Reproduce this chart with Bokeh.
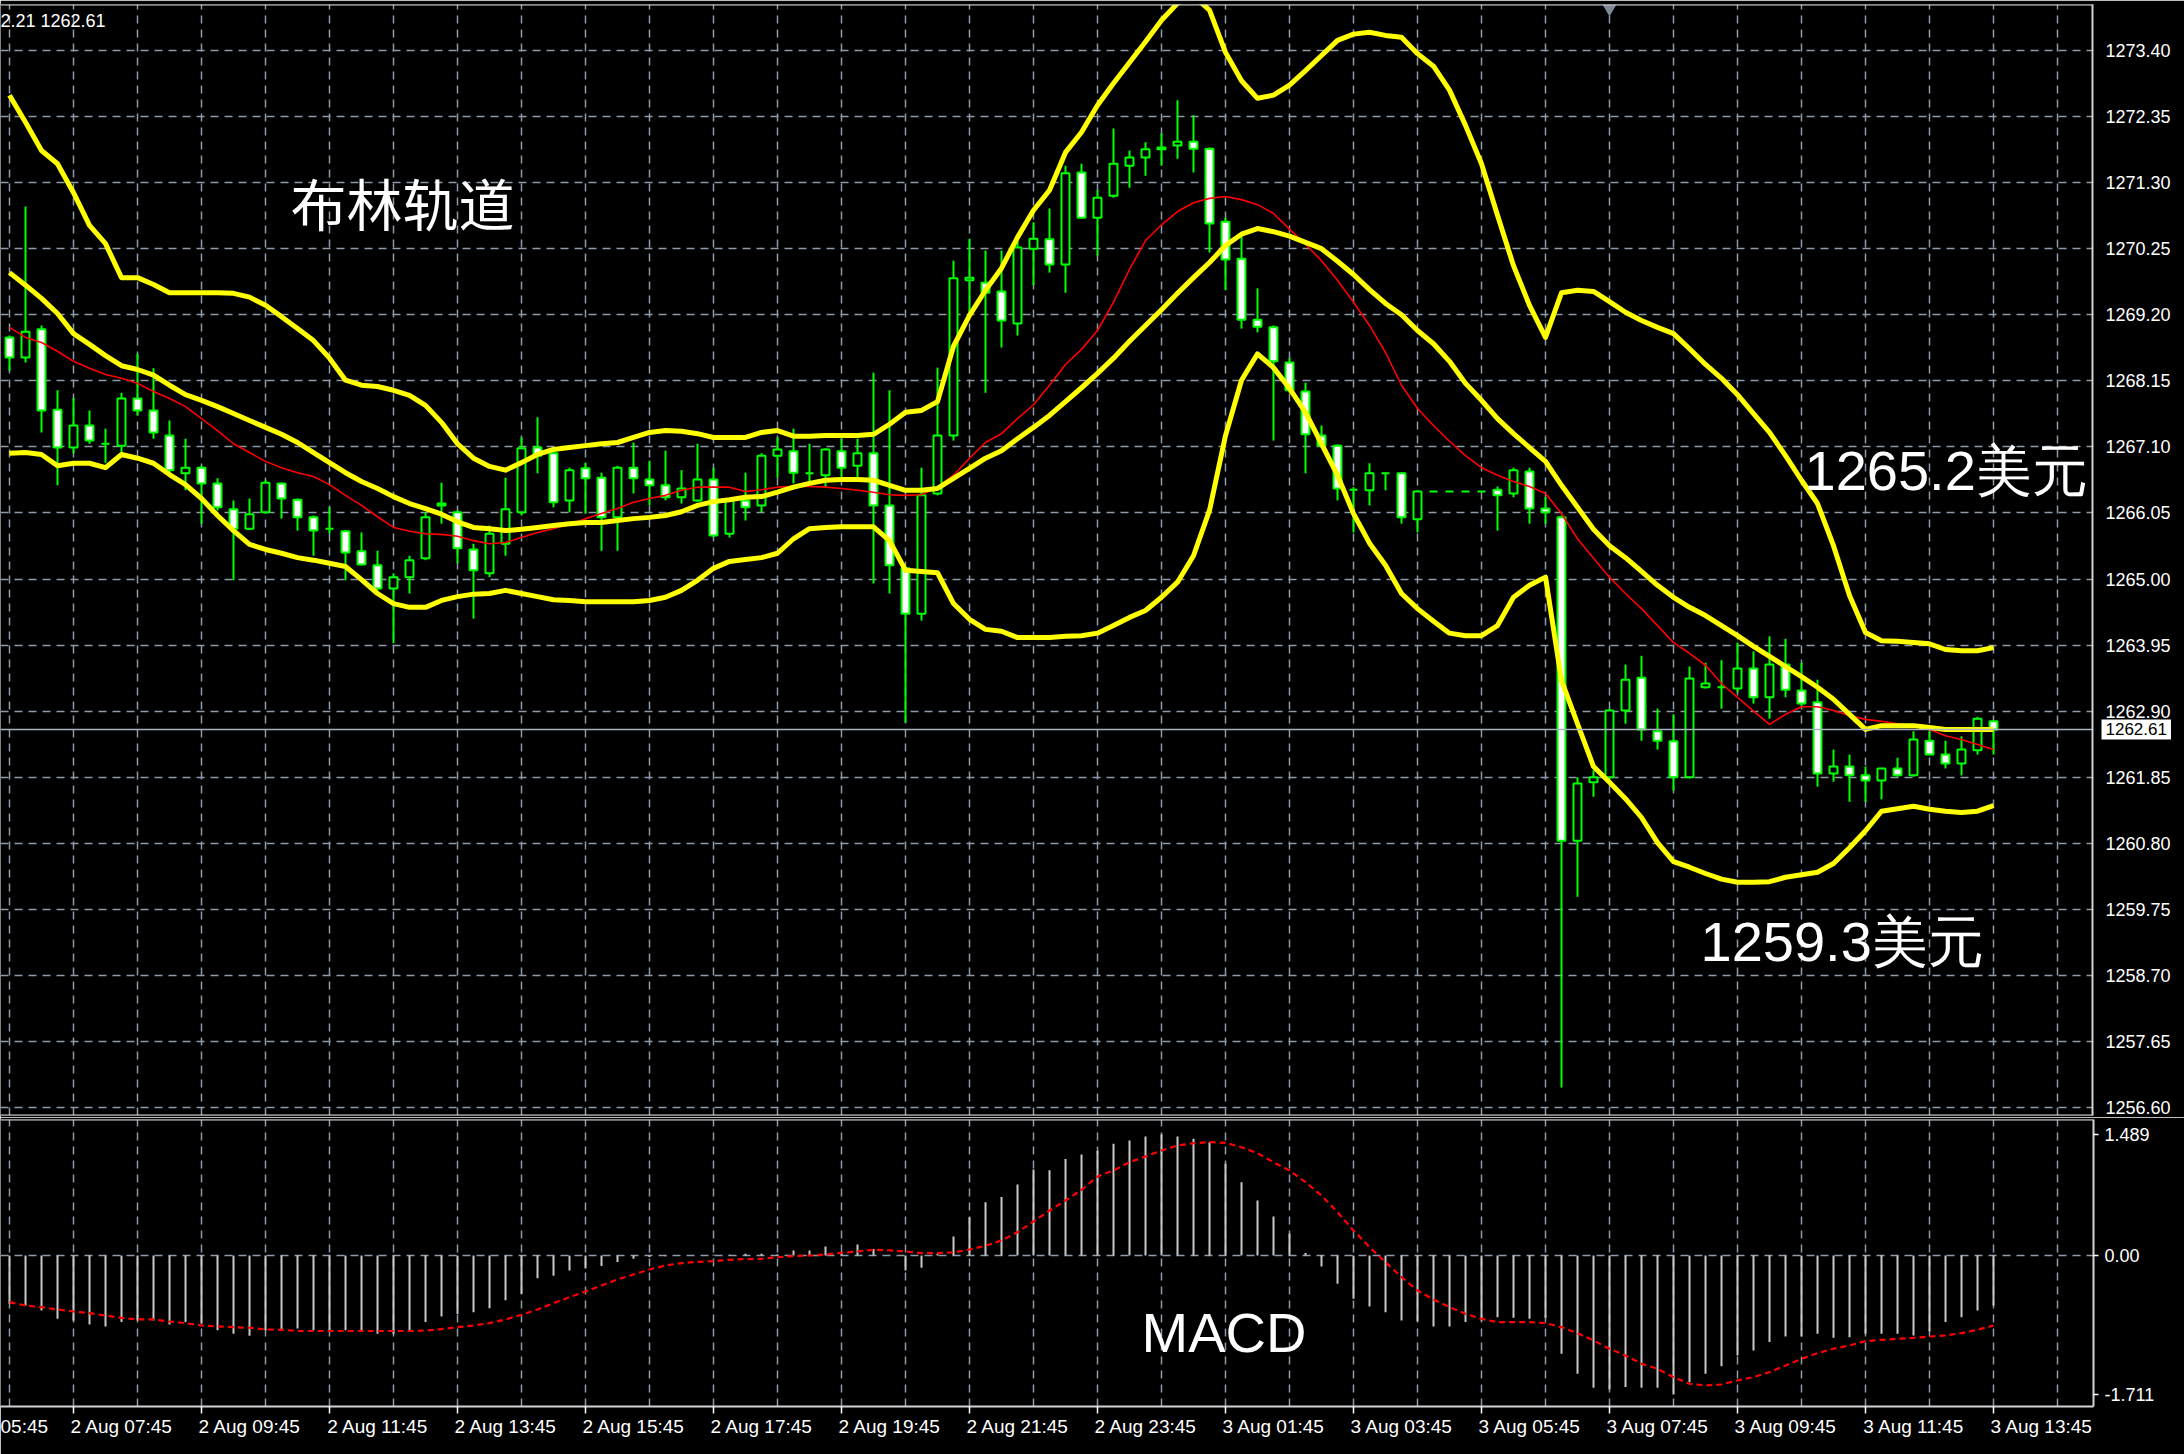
from bokeh.plotting import figure
from bokeh.layouts import column
from bokeh.models import (Range1d, FixedTicker, Span, Label, Grid, ColumnDataSource,
                          NumeralTickFormatter)
from bokeh.embed import file_html
from bokeh.resources import INLINE

# ---------------- data (15-minute bars, 2 Aug 06:45 -> 3 Aug 13:45) ----------------
open_ = [
    1268.84, 1268.52, 1268.97, 1267.69, 1267.09, 1267.44, 1267.15, 1267.12, 1267.87, 1267.68,
    1267.28, 1266.68, 1266.77, 1266.52, 1266.11, 1265.80, 1266.06, 1266.52, 1266.26, 1265.98,
    1265.80, 1265.76, 1265.44, 1265.22, 1264.85, 1265.03, 1265.33, 1266.17, 1266.06, 1265.47,
    1265.09, 1265.56, 1266.06, 1267.09, 1267.00, 1266.25, 1266.76, 1266.61, 1265.98, 1266.77,
    1266.58, 1266.49, 1266.30, 1266.25, 1266.58, 1265.72, 1266.25, 1266.17, 1266.96, 1267.03,
    1266.68, 1266.65, 1267.03, 1266.80, 1267.00, 1266.17, 1265.17, 1264.45, 1266.36, 1267.28,
    1269.75, 1269.71, 1269.57, 1269.06, 1270.25, 1270.40, 1270.00, 1271.46, 1270.74, 1271.09,
    1271.57, 1271.70, 1271.83, 1271.89, 1271.95, 1271.84, 1270.68, 1270.09, 1269.12, 1269.00,
    1268.44, 1267.98, 1267.28, 1267.12, 1266.42, 1266.41, 1266.68, 1266.68, 1265.95, 1266.39,
    1266.39, 1266.39, 1266.39, 1266.42, 1266.36, 1266.71, 1266.12, 1265.98, 1260.84, 1261.77,
    1261.85, 1262.91, 1263.43, 1262.58, 1262.42, 1261.85, 1263.28, 1263.28, 1263.26, 1263.58,
    1263.12, 1263.64, 1263.23, 1263.04, 1261.91, 1262.02, 1261.88, 1261.80, 1261.99, 1261.88,
    1262.43, 1262.21, 1262.07, 1262.28, 1262.74]
high_ = [
    1268.87, 1270.92, 1269.03, 1268.00, 1267.88, 1267.68, 1267.39, 1267.96, 1268.58, 1268.35,
    1267.52, 1267.23, 1266.80, 1266.60, 1266.25, 1266.28, 1266.57, 1266.53, 1266.28, 1266.01,
    1266.14, 1265.78, 1265.74, 1265.45, 1265.09, 1265.37, 1266.06, 1266.53, 1266.09, 1265.56,
    1265.85, 1266.61, 1267.25, 1267.57, 1267.01, 1266.77, 1266.85, 1266.69, 1266.80, 1267.17,
    1266.88, 1267.04, 1266.73, 1267.15, 1266.77, 1266.28, 1266.69, 1267.00, 1267.25, 1267.39,
    1267.15, 1267.08, 1267.23, 1267.23, 1268.28, 1268.00, 1265.19, 1266.77, 1268.36, 1270.06,
    1270.41, 1270.22, 1270.22, 1270.38, 1270.67, 1270.89, 1271.57, 1271.60, 1271.18, 1272.16,
    1271.81, 1271.94, 1272.08, 1272.61, 1272.37, 1271.86, 1270.74, 1270.46, 1269.62, 1269.03,
    1268.51, 1268.12, 1267.44, 1267.14, 1266.46, 1266.84, 1266.68, 1266.69, 1266.41, 1266.39,
    1266.39, 1266.39, 1266.39, 1266.47, 1266.77, 1266.77, 1266.30, 1266.01, 1261.85, 1261.96,
    1262.94, 1263.64, 1263.78, 1262.94, 1262.85, 1263.61, 1263.67, 1263.71, 1263.99, 1263.85,
    1264.09, 1264.05, 1263.67, 1263.40, 1262.29, 1262.21, 1262.02, 1262.00, 1262.16, 1262.58,
    1262.58, 1262.43, 1262.50, 1262.81, 1262.75]
low_ = [
    1268.31, 1268.44, 1267.33, 1266.49, 1267.00, 1267.15, 1266.85, 1267.01, 1267.60, 1267.23,
    1266.68, 1266.41, 1265.88, 1266.09, 1264.98, 1265.78, 1266.04, 1265.96, 1265.77, 1265.37,
    1265.72, 1264.98, 1265.22, 1264.83, 1263.98, 1264.77, 1265.30, 1265.88, 1265.25, 1264.37,
    1265.03, 1265.37, 1266.01, 1266.68, 1266.14, 1266.06, 1266.04, 1265.45, 1265.45, 1266.36,
    1266.17, 1266.25, 1266.20, 1266.23, 1265.67, 1265.66, 1265.93, 1266.06, 1266.61, 1266.52,
    1266.52, 1266.46, 1266.57, 1266.57, 1264.93, 1264.77, 1262.72, 1264.34, 1266.33, 1267.20,
    1269.24, 1267.96, 1268.68, 1268.87, 1269.67, 1269.87, 1269.55, 1270.73, 1270.14, 1271.06,
    1271.22, 1271.41, 1271.57, 1271.68, 1271.46, 1270.19, 1269.59, 1268.98, 1268.92, 1267.20,
    1267.96, 1266.68, 1267.09, 1266.25, 1265.74, 1266.17, 1266.41, 1265.88, 1265.74, 1266.39,
    1266.39, 1266.39, 1266.39, 1265.77, 1266.30, 1265.88, 1265.88, 1256.92, 1259.95, 1261.54,
    1261.83, 1262.70, 1262.43, 1262.29, 1261.64, 1261.83, 1263.26, 1262.94, 1263.20, 1263.02,
    1262.78, 1263.12, 1262.99, 1261.70, 1261.78, 1261.46, 1261.46, 1261.50, 1261.86, 1261.86,
    1262.20, 1261.99, 1261.88, 1262.21, 1262.21]
close_ = [
    1268.52, 1268.93, 1267.68, 1267.09, 1267.44, 1267.20, 1267.15, 1267.87, 1267.68, 1267.33,
    1266.73, 1266.77, 1266.52, 1266.14, 1265.80, 1266.03, 1266.53, 1266.28, 1265.98, 1265.77,
    1265.80, 1265.42, 1265.23, 1264.85, 1265.03, 1265.30, 1265.98, 1266.20, 1265.49, 1265.14,
    1265.72, 1266.11, 1267.08, 1266.96, 1266.22, 1266.73, 1266.60, 1265.98, 1266.77, 1266.60,
    1266.49, 1266.30, 1266.44, 1266.58, 1265.69, 1266.25, 1266.14, 1266.96, 1267.06, 1266.69,
    1266.68, 1267.06, 1266.77, 1267.00, 1266.17, 1265.22, 1264.45, 1266.33, 1267.28, 1269.78,
    1269.79, 1269.55, 1269.11, 1270.27, 1270.41, 1270.00, 1271.45, 1270.74, 1271.06, 1271.60,
    1271.70, 1271.83, 1271.86, 1271.95, 1271.84, 1270.65, 1270.08, 1269.12, 1269.01, 1268.46,
    1268.00, 1267.30, 1267.12, 1266.44, 1266.42, 1266.68, 1266.68, 1265.98, 1266.39, 1266.39,
    1266.39, 1266.39, 1266.39, 1266.33, 1266.73, 1266.12, 1266.06, 1260.84, 1261.75, 1261.85,
    1262.91, 1263.40, 1262.61, 1262.43, 1261.85, 1263.42, 1263.34, 1263.28, 1263.58, 1263.12,
    1263.64, 1263.24, 1263.02, 1261.91, 1262.02, 1261.88, 1261.80, 1261.99, 1261.88, 1262.45,
    1262.21, 1262.07, 1262.29, 1262.78, 1262.61]

bb_upper = [
    1272.69, 1272.26, 1271.81, 1271.60, 1271.14, 1270.62, 1270.33, 1269.79, 1269.79, 1269.68,
    1269.55, 1269.55, 1269.55, 1269.55, 1269.54, 1269.48, 1269.35, 1269.17, 1268.98, 1268.79,
    1268.51, 1268.16, 1268.08, 1268.06, 1268.00, 1267.92, 1267.76, 1267.49, 1267.15, 1266.92,
    1266.79, 1266.73, 1266.85, 1266.98, 1267.06, 1267.09, 1267.12, 1267.15, 1267.17, 1267.25,
    1267.33, 1267.36, 1267.35, 1267.31, 1267.25, 1267.25, 1267.25, 1267.33, 1267.36, 1267.27,
    1267.27, 1267.28, 1267.28, 1267.28, 1267.30, 1267.46, 1267.65, 1267.68, 1267.82, 1268.70,
    1269.19, 1269.59, 1269.94, 1270.43, 1270.86, 1271.18, 1271.78, 1272.10, 1272.53, 1272.88,
    1273.21, 1273.54, 1273.88, 1274.15, 1274.27, 1274.04, 1273.37, 1272.92, 1272.64, 1272.69,
    1272.85, 1273.08, 1273.32, 1273.56, 1273.66, 1273.69, 1273.64, 1273.61, 1273.35, 1273.15,
    1272.77, 1272.21, 1271.60, 1270.78, 1269.98, 1269.35, 1268.84, 1269.55, 1269.59, 1269.57,
    1269.41, 1269.24, 1269.11, 1269.00, 1268.90, 1268.66, 1268.41, 1268.19, 1267.93, 1267.63,
    1267.33, 1266.96, 1266.57, 1266.20, 1265.53, 1264.74, 1264.15, 1264.02, 1264.01, 1263.99,
    1263.97, 1263.88, 1263.86, 1263.86, 1263.91]
bb_middle = [
    1269.87, 1269.67, 1269.46, 1269.22, 1268.90, 1268.73, 1268.55, 1268.39, 1268.33, 1268.24,
    1268.08, 1267.93, 1267.84, 1267.74, 1267.63, 1267.52, 1267.41, 1267.30, 1267.17, 1267.01,
    1266.85, 1266.69, 1266.55, 1266.44, 1266.31, 1266.20, 1266.12, 1266.03, 1265.91, 1265.82,
    1265.80, 1265.77, 1265.79, 1265.82, 1265.85, 1265.88, 1265.90, 1265.90, 1265.93, 1265.96,
    1265.98, 1266.01, 1266.07, 1266.17, 1266.23, 1266.26, 1266.30, 1266.31, 1266.38, 1266.46,
    1266.52, 1266.57, 1266.58, 1266.58, 1266.57, 1266.49, 1266.41, 1266.41, 1266.44, 1266.60,
    1266.76, 1266.92, 1267.04, 1267.23, 1267.41, 1267.60, 1267.82, 1268.04, 1268.27, 1268.51,
    1268.78, 1269.03, 1269.28, 1269.54, 1269.79, 1270.03, 1270.30, 1270.48, 1270.57, 1270.52,
    1270.45, 1270.35, 1270.25, 1270.05, 1269.84, 1269.60, 1269.38, 1269.20, 1268.95, 1268.74,
    1268.46, 1268.11, 1267.84, 1267.55, 1267.31, 1267.09, 1266.87, 1266.49, 1266.14, 1265.79,
    1265.53, 1265.34, 1265.12, 1264.90, 1264.71, 1264.55, 1264.42, 1264.26, 1264.10, 1263.93,
    1263.77, 1263.61, 1263.45, 1263.28, 1263.09, 1262.85, 1262.61, 1262.67, 1262.67, 1262.67,
    1262.64, 1262.61, 1262.61, 1262.61, 1262.61]
bb_lower = [
    1267.00, 1267.01, 1266.98, 1266.80, 1266.84, 1266.84, 1266.77, 1266.98, 1266.92, 1266.84,
    1266.66, 1266.50, 1266.28, 1266.01, 1265.77, 1265.55, 1265.47, 1265.41, 1265.34, 1265.30,
    1265.25, 1265.20, 1264.99, 1264.77, 1264.61, 1264.55, 1264.55, 1264.66, 1264.72, 1264.76,
    1264.77, 1264.82, 1264.77, 1264.72, 1264.67, 1264.66, 1264.64, 1264.64, 1264.64, 1264.64,
    1264.66, 1264.71, 1264.82, 1264.98, 1265.17, 1265.28, 1265.31, 1265.34, 1265.41, 1265.64,
    1265.80, 1265.82, 1265.83, 1265.83, 1265.83, 1265.61, 1265.14, 1265.12, 1265.10, 1264.61,
    1264.36, 1264.20, 1264.17, 1264.07, 1264.07, 1264.07, 1264.09, 1264.10, 1264.14, 1264.26,
    1264.39, 1264.50, 1264.71, 1264.95, 1265.37, 1266.09, 1267.28, 1268.16, 1268.58, 1268.36,
    1268.03, 1267.65, 1267.15, 1266.65, 1266.04, 1265.57, 1265.22, 1264.77, 1264.53, 1264.33,
    1264.14, 1264.10, 1264.10, 1264.26, 1264.71, 1264.90, 1265.03, 1263.39, 1262.70, 1262.02,
    1261.77, 1261.51, 1261.21, 1260.81, 1260.51, 1260.42, 1260.32, 1260.23, 1260.18, 1260.18,
    1260.19, 1260.26, 1260.30, 1260.34, 1260.48, 1260.73, 1261.00, 1261.31, 1261.35, 1261.39,
    1261.34, 1261.31, 1261.29, 1261.31, 1261.40]
ma_red = [
    1269.00, 1268.84, 1268.76, 1268.62, 1268.46, 1268.35, 1268.25, 1268.19, 1268.11, 1267.98,
    1267.87, 1267.74, 1267.55, 1267.36, 1267.15, 1267.01, 1266.87, 1266.77, 1266.69, 1266.63,
    1266.50, 1266.33, 1266.17, 1265.99, 1265.82, 1265.76, 1265.72, 1265.71, 1265.68, 1265.61,
    1265.56, 1265.58, 1265.66, 1265.74, 1265.80, 1265.87, 1265.96, 1266.04, 1266.12, 1266.22,
    1266.28, 1266.33, 1266.41, 1266.46, 1266.46, 1266.46, 1266.39, 1266.42, 1266.46, 1266.47,
    1266.47, 1266.46, 1266.44, 1266.41, 1266.38, 1266.34, 1266.33, 1266.34, 1266.46, 1266.65,
    1266.92, 1267.17, 1267.31, 1267.55, 1267.77, 1268.08, 1268.41, 1268.65, 1268.95, 1269.40,
    1269.92, 1270.38, 1270.63, 1270.84, 1270.98, 1271.05, 1271.08, 1271.03, 1270.95, 1270.81,
    1270.56, 1270.32, 1270.06, 1269.75, 1269.40, 1269.03, 1268.60, 1268.08, 1267.71, 1267.44,
    1267.19, 1266.96, 1266.77, 1266.65, 1266.55, 1266.47, 1266.36, 1266.04, 1265.64, 1265.33,
    1265.03, 1264.77, 1264.53, 1264.26, 1263.99, 1263.82, 1263.63, 1263.34, 1263.12, 1262.90,
    1262.69, 1262.85, 1262.97, 1262.97, 1262.91, 1262.83, 1262.77, 1262.74, 1262.70, 1262.66,
    1262.61, 1262.51, 1262.45, 1262.37, 1262.29]

macd_hist = [
    -0.595, -0.616, -0.677, -0.78, -0.80, -0.85, -0.874, -0.82, -0.80, -0.80,
    -0.85, -0.82, -0.84, -0.92, -0.965, -0.99, -0.92, -0.915, -0.90, -0.92,
    -0.92, -0.92, -0.94, -0.965, -0.965, -0.93, -0.82, -0.75, -0.72, -0.70,
    -0.65, -0.55, -0.47, -0.28, -0.25, -0.185, -0.16, -0.13, -0.08, -0.04,
    -0.02, -0.01, 0.0, 0.0, 0.01, 0.01, 0.02, 0.02, 0.012, 0.06,
    0.06, 0.11, 0.04, 0.135, 0.08, 0.0, -0.185, -0.15, 0.02, 0.234,
    0.47, 0.657, 0.72, 0.874, 1.06, 1.05, 1.19, 1.244, 1.29, 1.375,
    1.416, 1.466, 1.489, 1.466, 1.437, 1.396, 1.129, 0.903, 0.677, 0.48,
    0.267, 0.03, -0.135, -0.349, -0.534, -0.628, -0.698, -0.80, -0.81, -0.874,
    -0.874, -0.82, -0.80, -0.76, -0.768, -0.78, -0.768, -1.211, -1.457, -1.63,
    -1.646, -1.62, -1.63, -1.63, -1.711, -1.56, -1.457, -1.363, -1.232, -1.17,
    -1.067, -0.998, -0.998, -0.965, -1.014, -1.006, -0.965, -0.965, -0.965, -0.985,
    -0.932, -0.82, -0.76, -0.677, -0.616]
macd_signal = [
    -0.575, -0.616, -0.636, -0.665, -0.69, -0.71, -0.739, -0.768, -0.788, -0.788,
    -0.813, -0.833, -0.862, -0.874, -0.883, -0.89, -0.911, -0.915, -0.93, -0.93,
    -0.93, -0.93, -0.93, -0.93, -0.93, -0.93, -0.924, -0.907, -0.883, -0.862,
    -0.833, -0.788, -0.73, -0.665, -0.587, -0.513, -0.443, -0.369, -0.296, -0.234,
    -0.172, -0.123, -0.094, -0.078, -0.07, -0.053, -0.045, -0.041, -0.02, -0.008,
    0.0, 0.012, 0.033, 0.049, 0.07, 0.062, 0.049, 0.029, 0.029, 0.037,
    0.074, 0.119, 0.185, 0.287, 0.419, 0.554, 0.677, 0.809, 0.973, 1.047,
    1.149, 1.219, 1.293, 1.355, 1.383, 1.396, 1.388, 1.334, 1.26, 1.149,
    1.047, 0.903, 0.739, 0.534, 0.308, 0.103, -0.082, -0.267, -0.431, -0.542,
    -0.636, -0.718, -0.78, -0.821, -0.821, -0.821, -0.833, -0.883, -0.956, -1.047,
    -1.149, -1.232, -1.334, -1.396, -1.498, -1.58, -1.60, -1.589, -1.539, -1.498,
    -1.437, -1.355, -1.273, -1.203, -1.149, -1.108, -1.055, -1.039, -1.026, -1.014,
    -0.998, -0.985, -0.956, -0.915, -0.862]

price_ticks = [1256.60, 1257.65, 1258.70, 1259.75, 1260.80, 1261.85, 1262.90, 1263.95, 1265.00,
               1266.05, 1267.10, 1268.15, 1269.20, 1270.25, 1271.30, 1272.35, 1273.40]
macd_ticks = [-1.711, 0.0, 1.489]
macd_tick_labels = ["-1.711", "0.00", "1.489"]
time_label_bars = [4, 12, 20, 28, 36, 44, 52, 60, 68, 76, 84, 92, 100, 108, 116, 124]
time_labels = ["2 Aug 07:45", "2 Aug 09:45", "2 Aug 11:45", "2 Aug 13:45", "2 Aug 15:45",
               "2 Aug 17:45", "2 Aug 19:45", "2 Aug 21:45", "2 Aug 23:45", "3 Aug 01:45",
               "3 Aug 03:45", "3 Aug 05:45", "3 Aug 07:45", "3 Aug 09:45", "3 Aug 11:45",
               "3 Aug 13:45"]
partial_time_label = "05:45"   # tail of "2 Aug 05:45", cut by the left edge
hour_grid_bars = list(range(0, 132, 4))

# ---------------- styling ----------------
BG = "#000000"
GRID_C = "#8d9aa9"
FRAME_C = "#d4d4d4"
LIME = "#00ff00"
YEL = "#ffff00"
RED = "#ff0000"
AX_FONT = "Liberation Sans"
TIME_FONT_PX = 19
PX_PRICE = 62.92   # px per price unit
PX_MACD = 81.2     # px per MACD unit
PX_BAR = 16.0      # px per bar

N = len(close_)
bars = list(range(N))

xr = Range1d(-0.5625, 130.25)
MAIN_TOP, MAIN_BOT = 1274.131, 1256.474
MACD_TOP, MACD_BOT = 1.675, -1.860


def style_grid(fig, xticks, yticks):
    fig.xgrid.visible = False
    fig.ygrid.visible = False
    fig.add_layout(Grid(dimension=0, ticker=FixedTicker(ticks=xticks), grid_line_color=GRID_C,
                        grid_line_width=1.5, grid_line_dash="8 6"))
    fig.add_layout(Grid(dimension=1, ticker=FixedTicker(ticks=yticks), grid_line_color=GRID_C,
                        grid_line_width=1.5, grid_line_dash="8 6"))


def style_axis(ax, size="18px"):
    ax.axis_line_color = FRAME_C
    ax.axis_line_width = 2
    ax.major_tick_line_color = "#ffffff"
    ax.major_tick_line_width = 1.5
    ax.major_tick_in = 0
    ax.minor_tick_line_color = None
    ax.major_label_text_color = "#ffffff"
    ax.major_label_text_font = AX_FONT
    ax.major_label_text_font_size = size


# ---------------- main price panel ----------------
p = figure(width=2184, height=1117, x_range=xr, y_range=Range1d(MAIN_BOT, MAIN_TOP),
           x_axis_location=None, y_axis_location="right",
           output_backend="svg", toolbar_location=None,
           background_fill_color=BG, border_fill_color=BG, outline_line_color=None,
           min_border_left=0, min_border_right=91, min_border_top=4, min_border_bottom=2)
ya = p.yaxis[0]
ya.ticker = FixedTicker(ticks=price_ticks)
ya.formatter = NumeralTickFormatter(format="0.00")
style_axis(ya)
ya.major_tick_out = 5
style_grid(p, hour_grid_bars, price_ticks)

bull = [c >= o for o, c in zip(open_, close_)]
src = ColumnDataSource(dict(
    x=bars, o=open_, h=high_, l=low_, c=close_,
    top=[max(o, c) for o, c in zip(open_, close_)],
    bot=[min(o, c) for o, c in zip(open_, close_)],
    fill=["#000000" if b else "#ffffff" for b in bull]))
p.segment(x0="x", y0="l", x1="x", y1="h", source=src, line_color=LIME, line_width=2)
p.vbar(x="x", width=0.5, top="top", bottom="bot", source=src,
       fill_color="fill", line_color=LIME, line_width=2)

p.line(bars, ma_red, line_color=RED, line_width=1.6)
for band in (bb_upper, bb_middle, bb_lower):
    p.line(bars, band, line_color=YEL, line_width=5, line_join="round")

p.add_layout(Span(location=close_[-1], dimension="width", line_color="#a9b3bd", line_width=1.5))
p.add_layout(Span(location=MAIN_TOP, dimension="width", line_color=FRAME_C, line_width=2))
p.add_layout(Span(location=MAIN_BOT, dimension="width", line_color=FRAME_C, line_width=2))
# price-scale rule drawn just inside the plot edge
p.add_layout(Span(location=xr.end - 1 / PX_BAR, dimension="height", line_color=FRAME_C,
                  line_width=2))

p.scatter(x=[100], y=[MAIN_TOP - 4 / PX_PRICE], marker="inverted_triangle", size=14,
          fill_color="#7d8a97", line_color=None)

# last-price box on the price scale: it lives in the right-hand panel (so it is not clipped),
# in front of the price axis, whose labels are pulled back over it by a negative standoff.
last_text = f"{close_[-1]:.2f}"
last_lbl = Label(x=xr.end + 8 / PX_BAR, y=close_[-1], text=last_text,
                 text_color="#000000", text_font=AX_FONT, text_font_size="17px",
                 text_baseline="middle", text_align="left",
                 background_fill_color="#ffffff")
pad = 0
try:
    last_lbl.padding = 4
    pad = 4
except Exception:
    pad = 0
label_w = (6 * 0.556 + 0.278) * 17 + 2 * pad
p.right = [last_lbl] + list(p.right)
ya.axis_line_color = None
ya.major_tick_line_color = None
ya.major_label_standoff = int(round(12 - 5 - label_w))

# visible tail of the OHLC info line in the corner
info_text = f"{low_[-1]:.2f}"[3:] + " " + f"{close_[-1]:.2f}"
p.add_layout(Label(x=xr.start, y=1274.195 - 21 / PX_PRICE, text=info_text, text_color="#ffffff",
                   text_font=AX_FONT, text_font_size="18px", text_baseline="middle",
                   text_align="left"))

p.add_layout(Label(x=17.56, y=1271.00, text="布林轨道", text_color="#ffffff",
                   text_font="Noto Sans CJK SC", text_font_size="56px",
                   text_baseline="middle", text_align="left"))
p.add_layout(Label(x=112.19, y=1266.725, text="1265.2美元", text_color="#ffffff",
                   text_font="Liberation Sans", text_font_size="56px",
                   text_baseline="middle", text_align="left"))
p.add_layout(Label(x=105.69, y=1259.24, text="1259.3美元", text_color="#ffffff",
                   text_font="Liberation Sans", text_font_size="56px",
                   text_baseline="middle", text_align="left"))

# ---------------- MACD panel ----------------
q = figure(width=2184, height=337, x_range=xr, y_range=Range1d(MACD_BOT, MACD_TOP),
           x_axis_location="below", y_axis_location="right",
           output_backend="svg", toolbar_location=None,
           background_fill_color=BG, border_fill_color=BG, outline_line_color=None,
           min_border_left=0, min_border_right=91, min_border_top=2, min_border_bottom=48)

# MetaTrader writes each time label to the right of its tick: the tick marks are drawn
# as minor ticks at the bars, the label texts are centred half a label width further.
label_half_bars = (5.393 * TIME_FONT_PX / 2 - 3) / PX_BAR
partial_half_bars = (2.5 * TIME_FONT_PX / 2) / PX_BAR
label_centres = [b + label_half_bars for b in time_label_bars]
partial_centre = xr.start + partial_half_bars
xa = q.xaxis[0]
xa.ticker = FixedTicker(ticks=[partial_centre] + label_centres, minor_ticks=time_label_bars)
overrides = {c: t for c, t in zip(label_centres, time_labels)}
overrides[partial_centre] = partial_time_label
xa.major_label_overrides = overrides
style_axis(xa, size=f"{TIME_FONT_PX}px")
xa.major_tick_line_color = None
xa.major_tick_out = 7
xa.major_label_standoff = 2
xa.minor_tick_line_color = "#ffffff"
xa.minor_tick_line_width = 1.5
xa.minor_tick_out = 7
xa.minor_tick_in = 0

qa = q.yaxis[0]
qa.ticker = FixedTicker(ticks=macd_ticks)
qa.major_label_overrides = {v: t for v, t in zip(macd_ticks, macd_tick_labels)}
style_axis(qa)
qa.major_tick_out = 5
qa.major_label_standoff = 6
style_grid(q, hour_grid_bars, [0.0])

q.segment(x0=bars, y0=[0.0] * N, x1=bars, y1=macd_hist, line_color="#c8c8c8", line_width=2)
q.line(bars, macd_signal, line_color=RED, line_width=2.2, line_dash="6 4")
q.add_layout(Span(location=MACD_TOP, dimension="width", line_color=FRAME_C, line_width=2))

q.add_layout(Label(x=70.75, y=-0.948, text="MACD", text_color="#ffffff",
                   text_font="Liberation Sans", text_font_size="56px",
                   text_baseline="middle", text_align="left"))

layout = column(p, q, spacing=0)
open("out.html", "w").write(file_html(layout, INLINE))
